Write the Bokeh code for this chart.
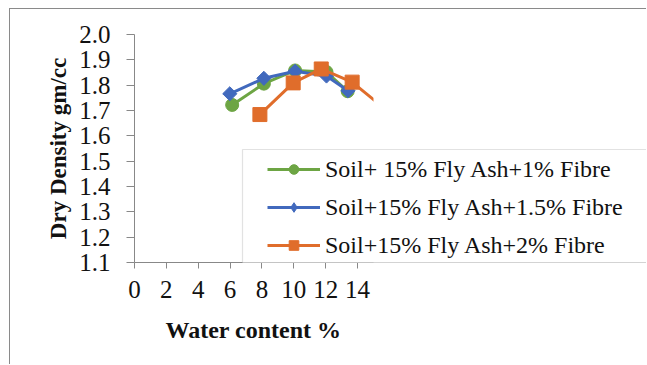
from bokeh.plotting import figure
from bokeh.models import (Range1d, FixedTicker, PrintfTickFormatter, Legend,
                          LegendItem, BoxAnnotation, Title)
from bokeh.embed import file_html
from bokeh.resources import INLINE

# ---- data ----
water_1 = [6.13, 8.12, 10.08, 12.05, 13.38]
dens_1 = [1.722, 1.806, 1.858, 1.852, 1.776]
water_15 = [5.98, 8.12, 10.08, 12.05, 13.40]
dens_15 = [1.766, 1.827, 1.855, 1.836, 1.778]
water_2 = [7.87, 9.96, 11.72, 13.66, 15.60]
dens_2 = [1.684, 1.809, 1.864, 1.812, 1.712]

x_ticks = [0, 2, 4, 6, 8, 10, 12, 14]
y_ticks = [1.1, 1.2, 1.3, 1.4, 1.5, 1.6, 1.7, 1.8, 1.9, 2.0]
labels = ["Soil+ 15% Fly Ash+1% Fibre",
          "Soil+15% Fly Ash+1.5% Fibre",
          "Soil+15% Fly Ash+2% Fibre"]
x_title = "Water content %"
y_title = "Dry Density gm/cc"

X_MAX = 15          # end of the drawn x axis
Y_MIN, Y_MAX = 1.1, 2.0

GREEN = "#6DA544"
BLUE = "#4169BD"
ORANGE = "#E06D2B"
FONT = "Liberation Serif"

W, H = 637, 356
FRAME_L, FRAME_T, FRAME_B = 124, 25, 103
px_per_unit = 239 / X_MAX
x_end = (W - FRAME_L) / px_per_unit

p = figure(width=W, height=H, output_backend="svg", toolbar_location=None,
           x_range=Range1d(0, x_end), y_range=Range1d(Y_MIN, Y_MAX),
           min_border_left=FRAME_L, min_border_right=0,
           min_border_top=FRAME_T, min_border_bottom=FRAME_B)
p.styles = {"margin-left": "9px", "margin-top": "8px",
            "border-left": "1px solid #8a8a8a", "border-top": "1px solid #8a8a8a"}
p.outline_line_color = None
p.xgrid.visible = False
p.ygrid.visible = False
p.background_fill_color = "white"
p.border_fill_color = "white"

# axes
for ax in (p.xaxis[0], p.yaxis[0]):
    ax.axis_line_color = "#888888"
    ax.major_tick_line_color = "#888888"
    ax.minor_tick_line_color = None
    ax.major_tick_in = 0
    ax.major_label_text_font = FONT
    ax.major_label_text_font_size = "25px"
    ax.major_label_text_color = "#111111"
    ax.axis_label_text_font = FONT
    ax.axis_label_text_font_style = "bold"
    ax.axis_label_text_color = "#111111"

p.yaxis.axis_label_text_font_size = "23px"
p.xaxis.ticker = FixedTicker(ticks=x_ticks)
p.yaxis.ticker = FixedTicker(ticks=y_ticks)
p.yaxis.formatter = PrintfTickFormatter(format="%.1f")
p.xaxis.major_tick_out = 6
p.yaxis.major_tick_out = 8
p.xaxis.major_label_standoff = 12
p.yaxis.major_label_standoff = 16
p.yaxis.axis_label = y_title
p.yaxis.axis_label_standoff = 5
# blank spacer label under the x tick labels
p.xaxis.axis_label = " "
p.xaxis.axis_label_text_font_size = "5px"
p.xaxis.axis_label_standoff = 0

# x-axis title centred under the drawn part of the axis (0..15)
xt = Title(text=x_title, align="left", offset=31, standoff=13,
           text_font=FONT, text_font_size="24px", text_font_style="bold",
           text_color="#111111")
p.add_layout(xt, "below")

# legend-size markers (hidden beneath the plot markers)
m1 = p.scatter(water_1, dens_1, marker="circle", size=9,
               fill_color=GREEN, line_color=GREEN)
m2 = p.scatter(water_15, dens_15, marker="diamond", size=9,
               fill_color=BLUE, line_color=BLUE)
m3 = p.scatter(water_2, dens_2, marker="square", size=10,
               fill_color=ORANGE, line_color=ORANGE)

# series
l1 = p.line(water_1, dens_1, line_color=GREEN, line_width=3)
p.scatter(water_1, dens_1, marker="circle", size=13, fill_color=GREEN, line_color=GREEN)
l2 = p.line(water_15, dens_15, line_color=BLUE, line_width=3)
p.scatter(water_15, dens_15, marker="square", angle=0.785398, size=10,
          fill_color=BLUE, line_color=BLUE)
l3 = p.line(water_2, dens_2, line_color=ORANGE, line_width=3)
p.scatter(water_2, dens_2, marker="square", size=14, fill_color=ORANGE, line_color=ORANGE)

# white area right of the x-axis end (the chart's plot area ends there)
mask = BoxAnnotation(left=X_MAX, fill_color="white", fill_alpha=1, line_color=None)
p.add_layout(mask)

# legend box
lbox = BoxAnnotation(left=231, right=W + 50, top=139, bottom=H - FRAME_B,
                     left_units="canvas", right_units="canvas",
                     top_units="canvas", bottom_units="canvas",
                     fill_color="white", fill_alpha=1, line_color="#a0a0a0",
                     line_width=1.2)
p.add_layout(lbox)

legend = Legend(items=[LegendItem(label=labels[0], renderers=[l1, m1]),
                       LegendItem(label=labels[1], renderers=[l2, m2]),
                       LegendItem(label=labels[2], renderers=[l3, m3])],
                location=(133, 2), border_line_color=None,
                background_fill_alpha=0, padding=4, margin=0, spacing=8,
                glyph_width=53, glyph_height=24, label_height=30,
                label_standoff=5, label_text_font=FONT,
                label_text_font_size="24px", label_text_color="#111111")
p.add_layout(legend, "center")

open("out.html", "w").write(file_html(p, INLINE))
